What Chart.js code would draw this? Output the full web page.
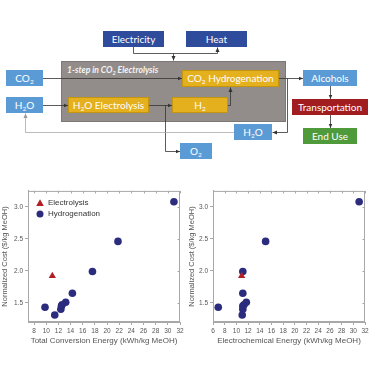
<!DOCTYPE html>
<html>
<head>
<meta charset="utf-8">
<script src="https://cdn.jsdelivr.net/npm/chart.js@4"></script>
<style>
  html, body { margin: 0; padding: 0; background: #fff; }
  #wrap { position: relative; width: 375px; height: 375px; overflow: hidden; font-family: Lato, "Open Sans", sans-serif; }
  .box { position: absolute; color: #fff; font-size: 10px; text-align: center; box-sizing: border-box; white-space: nowrap; }
  .box sub { font-size: 6.5px; vertical-align: -2px; line-height: 0; }
  .lb { background: #5b9bd5; }
  .db { background: #2f4b9c; }
  .yl { background: #e5b01e; border: 1px solid #c4950f; }
  .rd { background: #a21d1f; }
  .gr { background: #4f9a3b; }
  #grey { position: absolute; left: 61px; top: 61px; width: 225px; height: 61px; background: #928d8a; border: 1px solid #7d7977; box-sizing: border-box; }
  #step { position: absolute; left: 67px; top: 64px; color: #f4f4f4; font-size: 8.6px; font-style: italic; font-weight: bold; white-space: nowrap; line-height: 12px; }
  #step sub { font-size: 5.5px; vertical-align: -1.5px; line-height: 0; }
  svg { position: absolute; left: 0; top: 0; }
  .cv { position: absolute; top: 185px; width: 187px; height: 165px; }
</style>
</head>
<body>
<div id="wrap">
  <div id="grey"></div>
  <div id="step">1-step in CO<sub>2</sub> Electrolysis</div>
  <div class="box db" style="left:103px;top:31px;width:61px;height:16px;line-height:16px">Electricity</div>
  <div class="box db" style="left:186px;top:31px;width:61px;height:16px;line-height:16px">Heat</div>
  <div class="box lb" style="left:6px;top:70px;width:37px;height:16px;line-height:16px">CO<sub>2</sub></div>
  <div class="box lb" style="left:6px;top:97px;width:37px;height:16px;line-height:16px">H<sub>2</sub>O</div>
  <div class="box yl" style="left:182px;top:70px;width:97px;height:17px;line-height:15px">CO<sub>2</sub> Hydrogenation</div>
  <div class="box yl" style="left:68px;top:97px;width:81px;height:16px;line-height:14px">H<sub>2</sub>O Electrolysis</div>
  <div class="box yl" style="left:172px;top:97px;width:56px;height:16px;line-height:14px">H<sub>2</sub></div>
  <div class="box lb" style="left:303px;top:70px;width:54px;height:16px;line-height:16px">Alcohols</div>
  <div class="box rd" style="left:292px;top:99px;width:76px;height:16px;line-height:16px">Transportation</div>
  <div class="box gr" style="left:303px;top:128px;width:54px;height:16px;line-height:16px">End Use</div>
  <div class="box lb" style="left:234px;top:124px;width:38px;height:16px;line-height:16px">H<sub>2</sub>O</div>
  <div class="box lb" style="left:180px;top:143px;width:32px;height:16px;line-height:16px">O<sub>2</sub></div>
  <svg width="375" height="185">
    <defs>
      <marker id="ah" markerWidth="5" markerHeight="5" refX="4.5" refY="2.5" orient="auto" markerUnits="userSpaceOnUse">
        <path d="M0,0.5 L4.5,2.5 L0,4.5 z" fill="#333"/>
      </marker>
      <marker id="ahg" markerWidth="5" markerHeight="5" refX="4.5" refY="2.5" orient="auto" markerUnits="userSpaceOnUse">
        <path d="M0,0.5 L4.5,2.5 L0,4.5 z" fill="#999"/>
      </marker>
    </defs>
    <g fill="none" stroke="#333" stroke-width="0.8">
      <polyline points="133.5,47 133.5,53.5 217.5,53.5 217.5,47.5" marker-end="url(#ah)"/>
      <polyline points="173.5,53.5 173.5,60.5" marker-end="url(#ah)"/>
      <polyline points="43,78.5 182,78.5" marker-end="url(#ah)"/>
      <polyline points="43,105.5 68,105.5" marker-end="url(#ah)"/>
      <polyline points="149,105.5 172,105.5" marker-end="url(#ah)"/>
      <polyline points="165.5,105.5 165.5,151.5 180,151.5" marker-end="url(#ah)"/>
      <polyline points="228,105.5 230.5,105.5 230.5,87.5" marker-end="url(#ah)"/>
      <polyline points="279,78.5 303,78.5" marker-end="url(#ah)"/>
      <polyline points="287.5,78.5 287.5,132.5 272.5,132.5" marker-end="url(#ah)"/>
      <polyline points="330.5,86 330.5,99" marker-end="url(#ah)"/>
      <polyline points="330.5,115 330.5,128" marker-end="url(#ah)"/>
      <polyline points="234,132.5 25.5,132.5 25.5,113.5" stroke="#aaa" marker-end="url(#ahg)"/>
    </g>
  </svg>
  <canvas id="c1" class="cv" style="left:0px"></canvas>
  <canvas id="c2" class="cv" style="left:187px"></canvas>
</div>
<script>
// valeurs
const totalEnergyH2 = [9.8, 11.4, 12.4, 12.5, 12.6, 13.2, 14.3, 17.6, 21.8, 31.0];
const costH2 = [1.43, 1.31, 1.40, 1.45, 1.47, 1.51, 1.65, 1.99, 2.46, 3.08];
const electroEnergyH2 = [6.9, 11.0, 11.1, 11.1, 11.3, 11.7, 11.1, 11.1, 15.0, 31.0];
const totalEnergyEl = [11.0];
const electroEnergyEl = [10.9];
const costEl = [1.92];
const xTicksLeft = [8, 10, 12, 14, 16, 18, 20, 22, 24, 26, 28, 30, 32];
const xTicksRight = [6, 8, 10, 12, 14, 16, 18, 20, 22, 24, 26, 28, 30, 32];
const yTicks = [1.5, 2.0, 2.5, 3.0];
const seriesNames = ['Electrolysis', 'Hydrogenation'];

const axisGrey = '#a8a8a8';
const textGrey = '#555';

function pts(xs, ys) {
  return xs.map((x, i) => ({ x: x, y: ys[i] }));
}

// cadre complet autour de la zone de tracé
const framePlugin = {
  id: 'frame',
  afterDraw(chart) {
    const a = chart.chartArea, ctx = chart.ctx;
    ctx.save();
    ctx.strokeStyle = axisGrey;
    ctx.lineWidth = 1;
    ctx.strokeRect(a.left + 0.5, a.top + 0.5, a.right - a.left - 1, a.bottom - a.top - 1);
    // petites graduations en haut et à droite
    const xs = chart.scales.x, ys = chart.scales.y;
    ctx.beginPath();
    xs.ticks.forEach(t => {
      const px = Math.round(xs.getPixelForValue(t.value)) + 0.5;
      ctx.moveTo(px, a.top); ctx.lineTo(px, a.top + 2.5);
    });
    ys.ticks.forEach(t => {
      const py = Math.round(ys.getPixelForValue(t.value)) + 0.5;
      ctx.moveTo(a.right, py); ctx.lineTo(a.right - 2.5, py);
    });
    ctx.stroke();
    ctx.restore();
  }
};

// légende dans la zone de tracé
const innerLegend = {
  id: 'innerLegend',
  afterDatasetsDraw(chart, args, opts) {
    if (!opts.show) return;
    const ctx = chart.ctx, a = chart.chartArea;
    ctx.save();
    ctx.font = '8px "Liberation Sans", Arial, sans-serif';
    ctx.textBaseline = 'middle';
    chart.data.datasets.forEach((ds, i) => {
      const x = a.left + 12, y = a.top + 12 + i * 11;
      ctx.fillStyle = ds.backgroundColor;
      ctx.beginPath();
      if (ds.pointStyle === 'triangle') {
        ctx.moveTo(x, y - 3.6); ctx.lineTo(x + 3.8, y + 3); ctx.lineTo(x - 3.8, y + 3); ctx.closePath();
      } else {
        ctx.arc(x, y, 3.5, 0, Math.PI * 2);
      }
      ctx.fill();
      ctx.fillStyle = '#333';
      ctx.fillText(ds.label, x + 8, y);
    });
    ctx.restore();
  }
};

function makeChart(id, xEl, xH2, xMin, xTicks, xTitle, showLegend, yWidth, padRight) {
  return new Chart(document.getElementById(id), {
    type: 'scatter',
    data: {
      datasets: [
        { label: seriesNames[0], data: pts(xEl, costEl), pointStyle: 'triangle', pointRadius: 4.2,
          backgroundColor: '#b21f24', borderColor: '#b21f24', borderWidth: 0 },
        { label: seriesNames[1], data: pts(xH2, costH2), pointStyle: 'circle', pointRadius: 3.8,
          backgroundColor: '#2c2c7e', borderColor: '#2c2c7e', borderWidth: 0 }
      ]
    },
    options: {
      responsive: false,
      animation: false,
      devicePixelRatio: 1,
      layout: { padding: { top: 5, right: padRight, left: 0, bottom: 0 } },
      plugins: { legend: { display: false }, tooltip: { enabled: false }, innerLegend: { show: showLegend } },
      scales: {
        x: {
          type: 'linear', min: xMin, max: 32,
          afterBuildTicks: s => { s.ticks = xTicks.map(v => ({ value: v })); },
          afterFit: s => { s.height = 28; },
          grid: { display: true, drawOnChartArea: false, color: axisGrey, tickLength: 3 },
          border: { color: axisGrey },
          ticks: { color: textGrey, font: { size: 6.5, family: '"Liberation Sans", Arial' }, padding: 2, maxRotation: 0, autoSkip: false },
          title: { display: true, text: xTitle, color: textGrey, font: { size: 8, family: '"Liberation Sans", Arial' }, padding: { top: 2 } }
        },
        y: {
          type: 'linear', min: 1.2, max: 3.25,
          afterBuildTicks: s => { s.ticks = yTicks.map(v => ({ value: v })); },
          afterFit: s => { s.width = yWidth; },
          grid: { display: true, drawOnChartArea: false, color: axisGrey, tickLength: 3 },
          border: { color: axisGrey },
          ticks: { color: textGrey, font: { size: 6.5, family: '"Liberation Sans", Arial' }, padding: 2,
            callback: v => v.toFixed(1) },
          title: { display: true, text: 'Normalized Cost ($/kg MeOH)', color: textGrey, font: { size: 7.5, family: '"Liberation Sans", Arial' }, padding: 0 }
        }
      }
    },
    plugins: [framePlugin, innerLegend]
  });
}

const c1 = document.getElementById('c1');
c1.width = 187; c1.height = 165;
const c2 = document.getElementById('c2');
c2.width = 187; c2.height = 165;

makeChart('c1', totalEnergyEl, totalEnergyH2, 7, xTicksLeft, 'Total Conversion Energy (kWh/kg MeOH)', true, 28, 7);
makeChart('c2', electroEnergyEl, electroEnergyH2, 6, xTicksRight, 'Electrochemical Energy (kWh/kg MeOH)', false, 26, 9);
</script>
</body>
</html>
